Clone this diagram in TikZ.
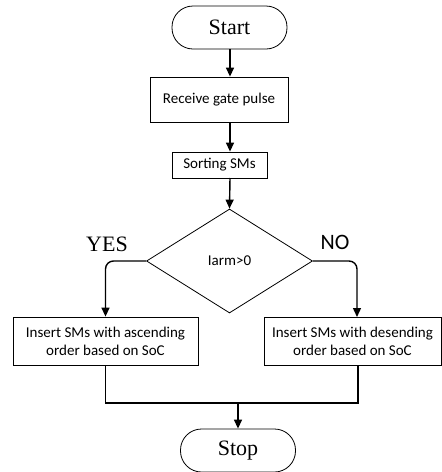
\documentclass[tikz,border=0pt]{standalone}
\usepackage{fontspec}
\setmainfont{Liberation Serif}
\newfontfamily\calibri{Carlito}
\usetikzlibrary{shapes.geometric,arrows.meta}

\begin{document}
\begin{tikzpicture}[x=1pt, y=-1pt]
        \tikzstyle{extremite}=[draw, line width=0.8pt, rectangle, rounded corners=21pt, minimum width=115pt, minimum height=43pt, inner sep=0, font=\fontsize{22}{26}\selectfont];
        \tikzstyle{boite}=[draw, line width=0.8pt, rectangle, inner sep=0, align=center, font=\calibri\fontsize{15}{18}\selectfont];
        \tikzstyle{test}=[draw, line width=0.8pt, diamond, minimum width=166pt, minimum height=104pt, inner sep=0, font=\calibri\fontsize{15}{18}\selectfont];
        \tikzstyle{trait}=[line width=1.4pt];
        \tikzstyle{fleche}=[trait, -{Triangle[length=9pt,width=8pt]}];

        \useasboundingbox (0,0) rectangle (442,472);

        \node[extremite] (start) at (229.5,27.5) {Start};
        \node[boite, minimum width=138pt, minimum height=45pt] (recoit) at (219,99.5) {Receive gate pulse};
        \node[boite, minimum width=95pt, minimum height=26pt] (tri) at (219.5,165) {Sorting SMs};
        \node[test] (test) at (229.5,261) {Iarm>0};
        \node[boite, minimum width=185pt, minimum height=48pt] (gauche) at (105.5,341) {Insert SMs with ascending\\order based on SoC};
        \node[boite, minimum width=177pt, minimum height=48pt] (droite) at (352.5,341) {Insert SMs with desending\\order based on SoC};
        \node[extremite] (stop) at (238,450.5) {Stop};

        \node[font=\fontsize{22}{26}\selectfont] (oui) at (107,244) {YES};
        \node[font=\calibri\fontsize{22}{26}\selectfont] (non) at (335,242) {NO};

        \coordinate (a1) at (230,49);
        \coordinate (a2) at (230,122);
        \coordinate (a3) at (230,178);
        \coordinate (nd) at (357,317);
        \coordinate (joint) at (238,403);
        \coordinate (jd) at (358,403);

        \draw[fleche] (a1) -- (a1 |- recoit.north);
        \draw[fleche] (a2) -- (a2 |- tri.north);
        \draw[fleche] (a3) -- (test.north);
        \draw[fleche, rounded corners=8pt] (test.west) -| (gauche.north);
        \draw[fleche, rounded corners=8pt] (test.east) -| (nd);
        \draw[trait] (gauche.south) |- (jd) -- (jd |- droite.south);
        \draw[fleche] (joint) -- (stop.north);
    \end{tikzpicture}
\end{document}
